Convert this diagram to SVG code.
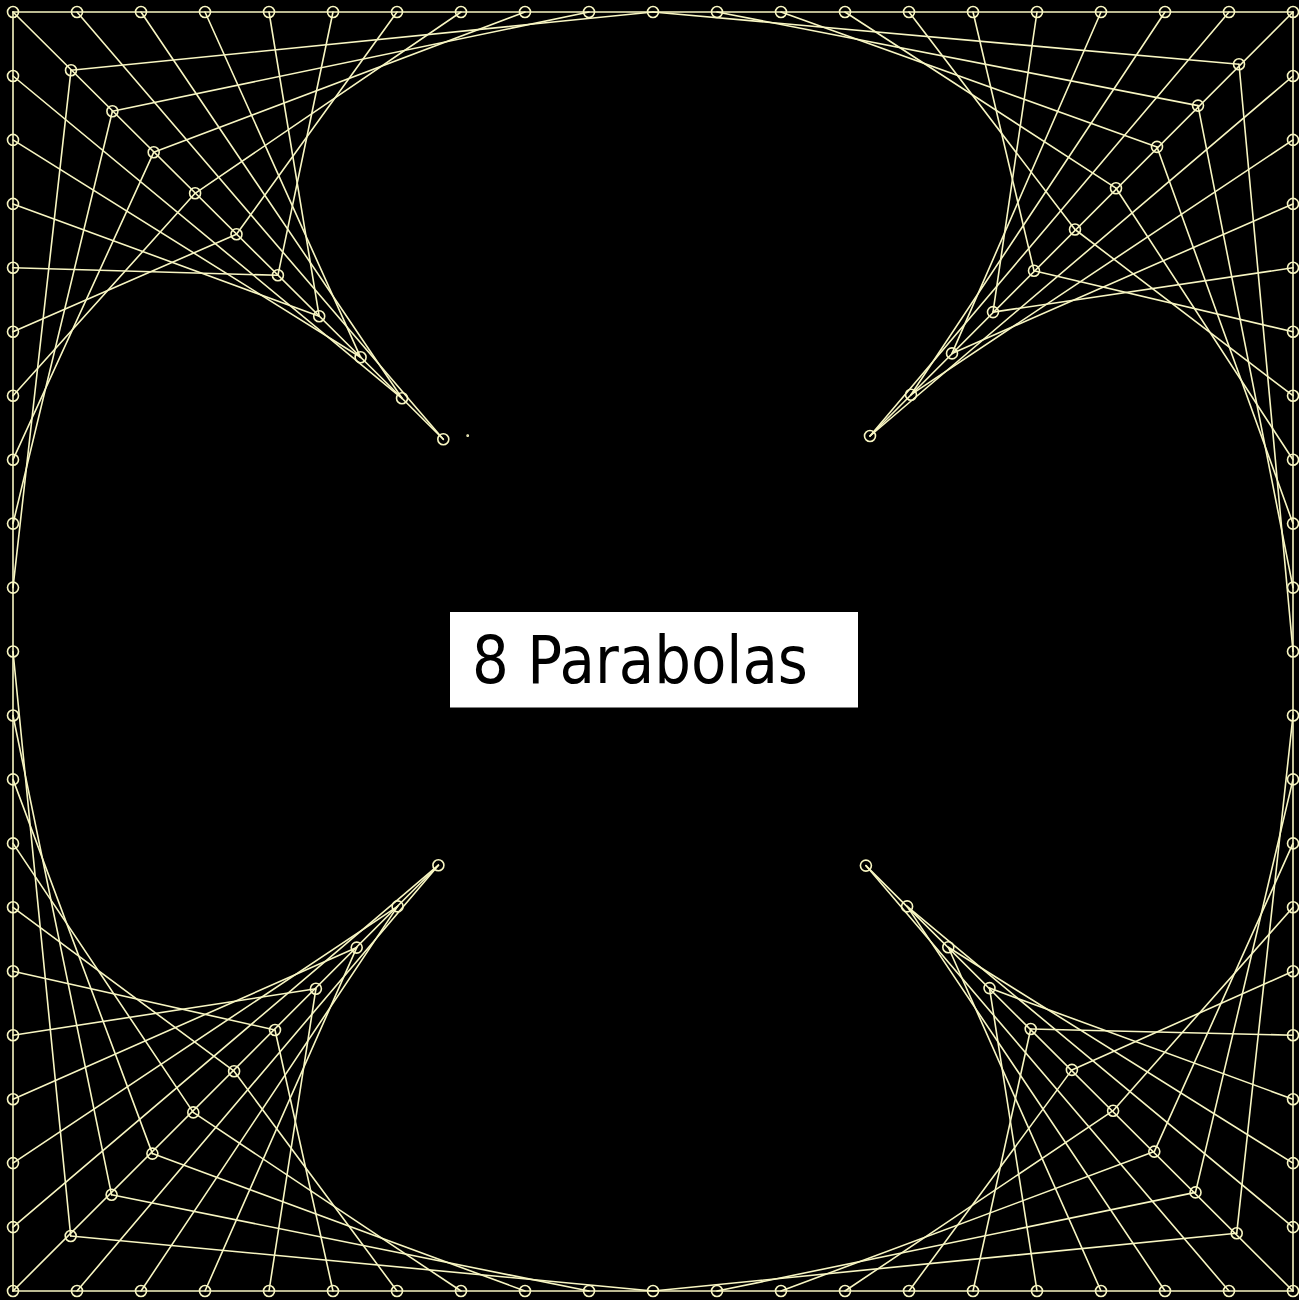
<svg xmlns="http://www.w3.org/2000/svg" width="1299" height="1300" viewBox="0 0 1299 1300">
<style>
.s line{stroke:#F8F6C2;stroke-width:1.6;stroke-linecap:round}
.p circle{fill:none;stroke:#F8F6C2;stroke-width:1.6}
.lbl{font-family:"DejaVu Sans","Noto Sans",sans-serif;font-size:66px;fill:#000}
</style>
<rect x="0" y="0" width="1299" height="1300" fill="#000"/>
<g id="connectors" class="s">
<line x1="13" y1="12" x2="1293" y2="12"/>
<line x1="1293" y1="12" x2="1293" y2="1291"/>
<line x1="1293" y1="1291" x2="13" y2="1291"/>
<line x1="13" y1="1291" x2="13" y2="12"/>
<line x1="13" y1="12" x2="443.3" y2="439.3"/>
<line x1="71" y1="70.3" x2="653" y2="12"/>
<line x1="112.4" y1="111.3" x2="589" y2="12"/>
<line x1="153.7" y1="152.3" x2="525" y2="12"/>
<line x1="195.1" y1="193.3" x2="461" y2="12"/>
<line x1="236.5" y1="234.3" x2="397" y2="12"/>
<line x1="277.9" y1="275.3" x2="333" y2="12"/>
<line x1="319.2" y1="316.3" x2="269" y2="12"/>
<line x1="360.6" y1="357.3" x2="205" y2="12"/>
<line x1="402" y1="398.3" x2="141" y2="12"/>
<line x1="443.3" y1="439.3" x2="77" y2="12"/>
<line x1="71" y1="70.3" x2="13" y2="587.6"/>
<line x1="112.4" y1="111.3" x2="13" y2="523.6"/>
<line x1="153.7" y1="152.3" x2="13" y2="459.7"/>
<line x1="195.1" y1="193.3" x2="13" y2="395.7"/>
<line x1="236.5" y1="234.3" x2="13" y2="331.8"/>
<line x1="277.9" y1="275.3" x2="13" y2="267.8"/>
<line x1="319.2" y1="316.3" x2="13" y2="203.9"/>
<line x1="360.6" y1="357.3" x2="13" y2="139.9"/>
<line x1="402" y1="398.3" x2="13" y2="76"/>
<line x1="1293" y1="12" x2="870" y2="436"/>
<line x1="1239" y1="64.3" x2="653" y2="12"/>
<line x1="1198" y1="105.6" x2="717" y2="12"/>
<line x1="1157" y1="146.9" x2="781" y2="12"/>
<line x1="1116" y1="188.2" x2="845" y2="12"/>
<line x1="1075" y1="229.5" x2="909" y2="12"/>
<line x1="1034" y1="270.8" x2="973" y2="12"/>
<line x1="993" y1="312.1" x2="1037" y2="12"/>
<line x1="952" y1="353.4" x2="1101" y2="12"/>
<line x1="911" y1="394.7" x2="1165" y2="12"/>
<line x1="870" y1="436" x2="1229" y2="12"/>
<line x1="1239" y1="64.3" x2="1293" y2="651.5"/>
<line x1="1198" y1="105.6" x2="1293" y2="587.6"/>
<line x1="1157" y1="146.9" x2="1293" y2="523.6"/>
<line x1="1116" y1="188.2" x2="1293" y2="459.7"/>
<line x1="1075" y1="229.5" x2="1293" y2="395.7"/>
<line x1="1034" y1="270.8" x2="1293" y2="331.8"/>
<line x1="993" y1="312.1" x2="1293" y2="267.8"/>
<line x1="952" y1="353.4" x2="1293" y2="203.9"/>
<line x1="911" y1="394.7" x2="1293" y2="139.9"/>
<line x1="870" y1="436" x2="1293" y2="76"/>
<line x1="1293" y1="1291" x2="865.9" y2="865.6"/>
<line x1="1236.7" y1="1233.3" x2="653" y2="1291"/>
<line x1="1195.5" y1="1192.4" x2="717" y2="1291"/>
<line x1="1154.3" y1="1151.6" x2="781" y2="1291"/>
<line x1="1113.1" y1="1110.7" x2="845" y2="1291"/>
<line x1="1071.9" y1="1069.9" x2="909" y2="1291"/>
<line x1="1030.7" y1="1029" x2="973" y2="1291"/>
<line x1="989.5" y1="988.1" x2="1037" y2="1291"/>
<line x1="948.3" y1="947.3" x2="1101" y2="1291"/>
<line x1="907.1" y1="906.4" x2="1165" y2="1291"/>
<line x1="865.9" y1="865.6" x2="1229" y2="1291"/>
<line x1="1236.7" y1="1233.3" x2="1293" y2="715.5"/>
<line x1="1195.5" y1="1192.4" x2="1293" y2="779.4"/>
<line x1="1154.3" y1="1151.6" x2="1293" y2="843.4"/>
<line x1="1113.1" y1="1110.7" x2="1293" y2="907.3"/>
<line x1="1071.9" y1="1069.9" x2="1293" y2="971.3"/>
<line x1="1030.7" y1="1029" x2="1293" y2="1035.2"/>
<line x1="989.5" y1="988.1" x2="1293" y2="1099.2"/>
<line x1="948.3" y1="947.3" x2="1293" y2="1163.1"/>
<line x1="907.1" y1="906.4" x2="1293" y2="1227.1"/>
<line x1="13" y1="1291" x2="438.4" y2="865.2"/>
<line x1="70.7" y1="1236" x2="13" y2="651.5"/>
<line x1="111.6" y1="1194.8" x2="13" y2="715.5"/>
<line x1="152.4" y1="1153.6" x2="13" y2="779.4"/>
<line x1="193.3" y1="1112.4" x2="13" y2="843.4"/>
<line x1="234.1" y1="1071.2" x2="13" y2="907.3"/>
<line x1="275" y1="1030" x2="13" y2="971.3"/>
<line x1="315.9" y1="988.8" x2="13" y2="1035.2"/>
<line x1="356.7" y1="947.6" x2="13" y2="1099.2"/>
<line x1="397.6" y1="906.4" x2="13" y2="1163.1"/>
<line x1="438.4" y1="865.2" x2="13" y2="1227.1"/>
<line x1="70.7" y1="1236" x2="653" y2="1291"/>
<line x1="111.6" y1="1194.8" x2="589" y2="1291"/>
<line x1="152.4" y1="1153.6" x2="525" y2="1291"/>
<line x1="193.3" y1="1112.4" x2="461" y2="1291"/>
<line x1="234.1" y1="1071.2" x2="397" y2="1291"/>
<line x1="275" y1="1030" x2="333" y2="1291"/>
<line x1="315.9" y1="988.8" x2="269" y2="1291"/>
<line x1="356.7" y1="947.6" x2="205" y2="1291"/>
<line x1="397.6" y1="906.4" x2="141" y2="1291"/>
<line x1="438.4" y1="865.2" x2="77" y2="1291"/>
</g>
<g id="edge-points" class="p">
<circle cx="13" cy="12" r="5.5"/><circle cx="77" cy="12" r="5.5"/><circle cx="141" cy="12" r="5.5"/><circle cx="205" cy="12" r="5.5"/><circle cx="269" cy="12" r="5.5"/><circle cx="333" cy="12" r="5.5"/><circle cx="397" cy="12" r="5.5"/><circle cx="461" cy="12" r="5.5"/><circle cx="525" cy="12" r="5.5"/><circle cx="589" cy="12" r="5.5"/><circle cx="653" cy="12" r="5.5"/><circle cx="717" cy="12" r="5.5"/><circle cx="781" cy="12" r="5.5"/><circle cx="845" cy="12" r="5.5"/><circle cx="909" cy="12" r="5.5"/><circle cx="973" cy="12" r="5.5"/><circle cx="1037" cy="12" r="5.5"/><circle cx="1101" cy="12" r="5.5"/><circle cx="1165" cy="12" r="5.5"/><circle cx="1229" cy="12" r="5.5"/><circle cx="1293" cy="12" r="5.5"/>
<circle cx="13" cy="1291" r="5.5"/><circle cx="77" cy="1291" r="5.5"/><circle cx="141" cy="1291" r="5.5"/><circle cx="205" cy="1291" r="5.5"/><circle cx="269" cy="1291" r="5.5"/><circle cx="333" cy="1291" r="5.5"/><circle cx="397" cy="1291" r="5.5"/><circle cx="461" cy="1291" r="5.5"/><circle cx="525" cy="1291" r="5.5"/><circle cx="589" cy="1291" r="5.5"/><circle cx="653" cy="1291" r="5.5"/><circle cx="717" cy="1291" r="5.5"/><circle cx="781" cy="1291" r="5.5"/><circle cx="845" cy="1291" r="5.5"/><circle cx="909" cy="1291" r="5.5"/><circle cx="973" cy="1291" r="5.5"/><circle cx="1037" cy="1291" r="5.5"/><circle cx="1101" cy="1291" r="5.5"/><circle cx="1165" cy="1291" r="5.5"/><circle cx="1229" cy="1291" r="5.5"/><circle cx="1293" cy="1291" r="5.5"/>
<circle cx="13" cy="76" r="5.5"/><circle cx="13" cy="139.9" r="5.5"/><circle cx="13" cy="203.9" r="5.5"/><circle cx="13" cy="267.8" r="5.5"/><circle cx="13" cy="331.8" r="5.5"/><circle cx="13" cy="395.7" r="5.5"/><circle cx="13" cy="459.7" r="5.5"/><circle cx="13" cy="523.6" r="5.5"/><circle cx="13" cy="587.6" r="5.5"/><circle cx="13" cy="651.5" r="5.5"/><circle cx="13" cy="715.5" r="5.5"/><circle cx="13" cy="779.4" r="5.5"/><circle cx="13" cy="843.4" r="5.5"/><circle cx="13" cy="907.3" r="5.5"/><circle cx="13" cy="971.3" r="5.5"/><circle cx="13" cy="1035.2" r="5.5"/><circle cx="13" cy="1099.2" r="5.5"/><circle cx="13" cy="1163.1" r="5.5"/><circle cx="13" cy="1227.1" r="5.5"/>
<circle cx="1293" cy="76" r="5.5"/><circle cx="1293" cy="139.9" r="5.5"/><circle cx="1293" cy="203.9" r="5.5"/><circle cx="1293" cy="267.8" r="5.5"/><circle cx="1293" cy="331.8" r="5.5"/><circle cx="1293" cy="395.7" r="5.5"/><circle cx="1293" cy="459.7" r="5.5"/><circle cx="1293" cy="523.6" r="5.5"/><circle cx="1293" cy="587.6" r="5.5"/><circle cx="1293" cy="651.5" r="5.5"/><circle cx="1293" cy="715.5" r="5.5"/><circle cx="1293" cy="779.4" r="5.5"/><circle cx="1293" cy="843.4" r="5.5"/><circle cx="1293" cy="907.3" r="5.5"/><circle cx="1293" cy="971.3" r="5.5"/><circle cx="1293" cy="1035.2" r="5.5"/><circle cx="1293" cy="1099.2" r="5.5"/><circle cx="1293" cy="1163.1" r="5.5"/><circle cx="1293" cy="1227.1" r="5.5"/>
</g>
<g id="diag-TL" class="p">
<circle cx="71" cy="70.3" r="5.5"/><circle cx="112.4" cy="111.3" r="5.5"/><circle cx="153.7" cy="152.3" r="5.5"/><circle cx="195.1" cy="193.3" r="5.5"/><circle cx="236.5" cy="234.3" r="5.5"/><circle cx="277.9" cy="275.3" r="5.5"/><circle cx="319.2" cy="316.3" r="5.5"/><circle cx="360.6" cy="357.3" r="5.5"/><circle cx="402" cy="398.3" r="5.5"/><circle cx="443.3" cy="439.3" r="5.5"/>
<circle cx="467.7" cy="435.7" r="0.6"/>
</g>
<g id="diag-TR" class="p">
<circle cx="1239" cy="64.3" r="5.5"/><circle cx="1198" cy="105.6" r="5.5"/><circle cx="1157" cy="146.9" r="5.5"/><circle cx="1116" cy="188.2" r="5.5"/><circle cx="1075" cy="229.5" r="5.5"/><circle cx="1034" cy="270.8" r="5.5"/><circle cx="993" cy="312.1" r="5.5"/><circle cx="952" cy="353.4" r="5.5"/><circle cx="911" cy="394.7" r="5.5"/><circle cx="870" cy="436" r="5.5"/>
</g>
<g id="diag-BR" class="p">
<circle cx="1236.7" cy="1233.3" r="5.5"/><circle cx="1195.5" cy="1192.4" r="5.5"/><circle cx="1154.3" cy="1151.6" r="5.5"/><circle cx="1113.1" cy="1110.7" r="5.5"/><circle cx="1071.9" cy="1069.9" r="5.5"/><circle cx="1030.7" cy="1029" r="5.5"/><circle cx="989.5" cy="988.1" r="5.5"/><circle cx="948.3" cy="947.3" r="5.5"/><circle cx="907.1" cy="906.4" r="5.5"/><circle cx="865.9" cy="865.6" r="5.5"/>
</g>
<g id="diag-BL" class="p">
<circle cx="70.7" cy="1236" r="5.5"/><circle cx="111.6" cy="1194.8" r="5.5"/><circle cx="152.4" cy="1153.6" r="5.5"/><circle cx="193.3" cy="1112.4" r="5.5"/><circle cx="234.1" cy="1071.2" r="5.5"/><circle cx="275" cy="1030" r="5.5"/><circle cx="315.9" cy="988.8" r="5.5"/><circle cx="356.7" cy="947.6" r="5.5"/><circle cx="397.6" cy="906.4" r="5.5"/><circle cx="438.4" cy="865.2" r="5.5"/>
</g>
<g id="title">
<rect x="450" y="612" width="408" height="95.5" fill="#fff"/>
<text class="lbl" x="472" y="683" textLength="336" lengthAdjust="spacingAndGlyphs">8 Parabolas</text>
</g>
</svg>
